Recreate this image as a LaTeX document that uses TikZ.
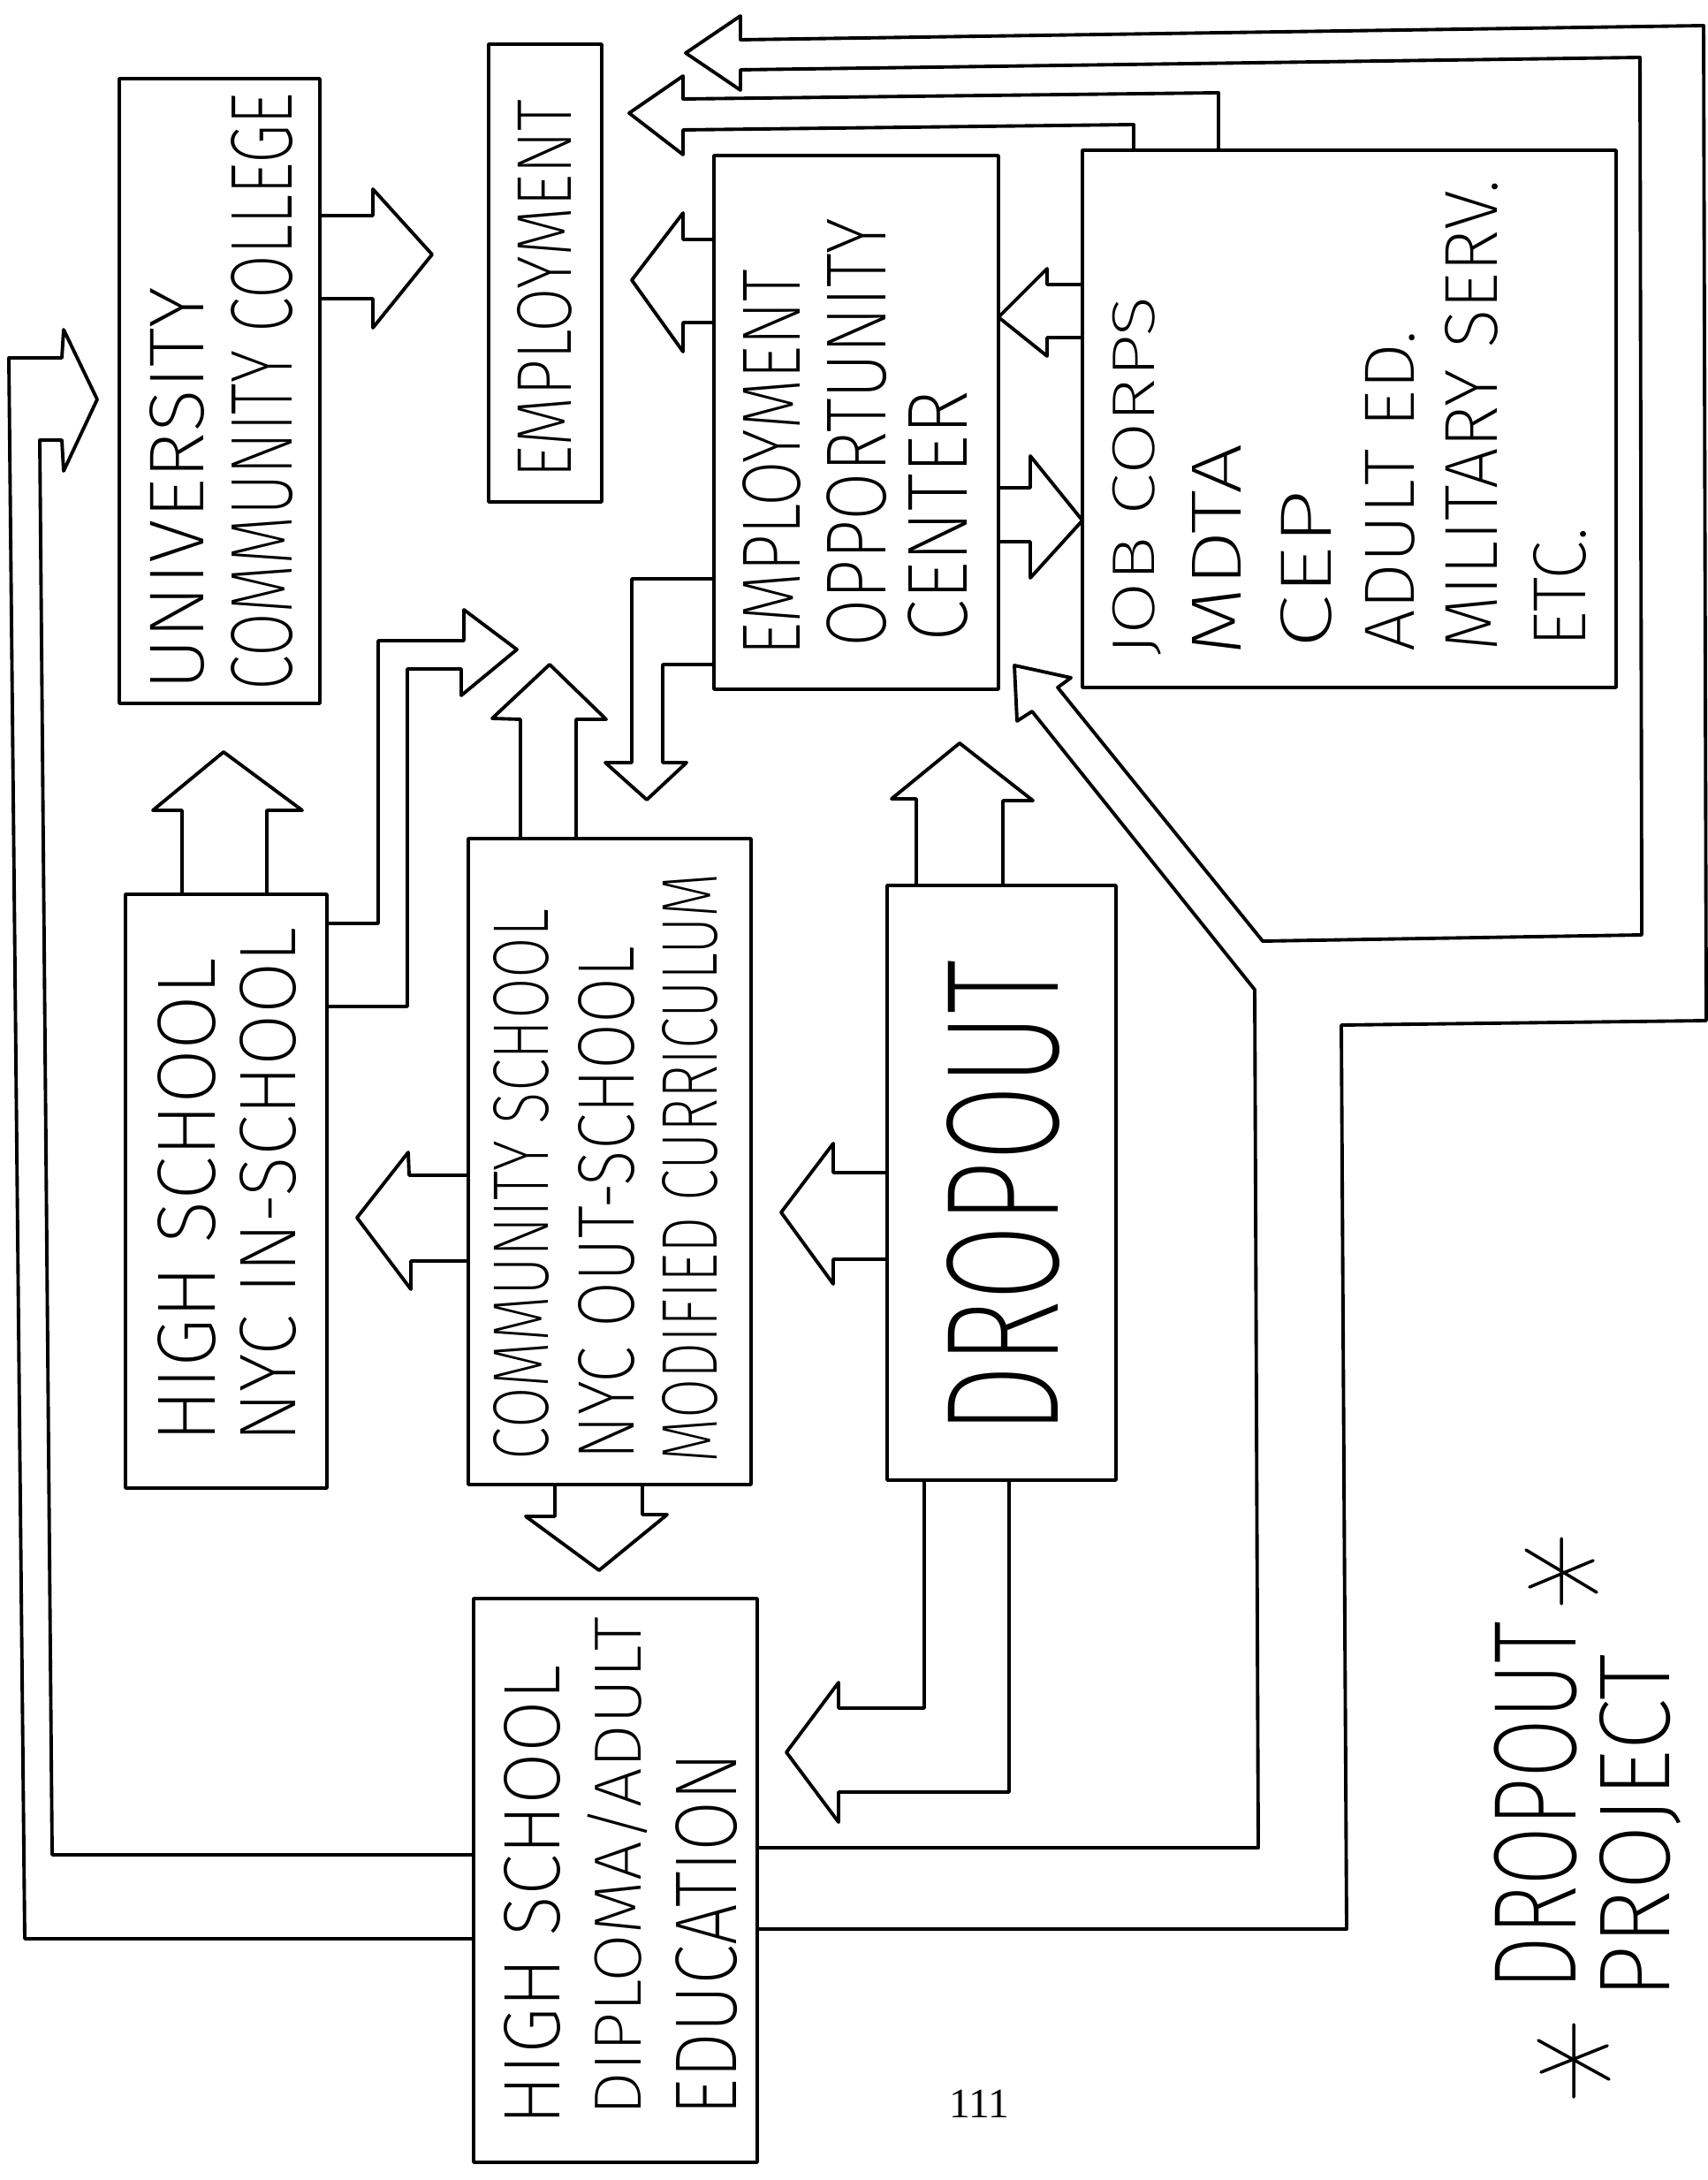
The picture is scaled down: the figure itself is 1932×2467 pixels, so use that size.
\documentclass[tikz,border=0pt]{standalone}
\usepackage{fontspec}
\usepackage{graphicx}
\IfFontExistsTF{Fira Sans ExtraLight}{\newfontfamily\handfont{Fira Sans ExtraLight}}{%
  \IfFontExistsTF{Fira Sans Light}{\newfontfamily\handfont{Fira Sans Light}}{\newfontfamily\handfont{Liberation Sans}}}
\newfontfamily\numfont{Liberation Serif}
\usetikzlibrary{fit}
\newlength\pxu
\setlength\pxu{0.1mm}
\newcommand\hw[3]{\resizebox*{#1\pxu}{#2\pxu}{\handfont #3}}
\begin{document}
\begin{tikzpicture}[x=0.1mm,y=-0.1mm, line width=1.1pt, line join=round, line cap=round,
  box/.style={draw, inner sep=0pt, line width=1pt},
  hand/.style={rotate=90, anchor=west, inner sep=0pt, outer sep=0pt}]
\useasboundingbox (0,0) rectangle (1932,2467);
\fill[white] (0,0) rectangle (1932,2467);

% boxes
\node[box, fit={(135,89) (362,796)}] (univ) {};
\node[box, fit={(553,50) (681,568)}] (empl) {};
\node[box, fit={(808,176) (1130,780)}] (eoc) {};
\node[box, fit={(1225,170) (1829,778)}] (jc) {};
\node[box, fit={(142,1012) (370,1684)}] (hs) {};
\node[box, fit={(530,949) (850,1680)}] (cs) {};
\node[box, fit={(1004,1002) (1263,1675)}] (drop) {};
\node[box, fit={(536,1809) (857,2447)}] (hsd) {};

% texts
\node[hand] (tu1) at (200,782) {\hw{457}{62}{UNIVERSITY}};
\node[hand] (tu2) at (297,782) {\hw{677}{70}{COMMUNITY COLLEGE}};
\node[hand] (te1) at (616,542) {\hw{429}{62}{EMPLOYMENT}};
\node[hand] (to1) at (874,743) {\hw{438}{66}{EMPLOYMENT}};
\node[hand] (to2) at (970,733) {\hw{486}{68}{OPPORTUNITY}};
\node[hand] (to3) at (1062,727) {\hw{285}{68}{CENTER}};
\node[hand] (tj1) at (1287,743) {\hw{408}{55}{JOB CORPS}};
\node[hand] (tj2) at (1377,743) {\hw{240}{55}{MDTA}};
\node[hand] (tj3) at (1478,735) {\hw{180}{58}{CEP}};
\node[hand] (tj4) at (1573,738) {\hw{364}{56}{ADULT ED.}};
\node[hand] (tj5) at (1665,738) {\hw{534}{60}{MILITARY SERV.}};
\node[hand] (tj6) at (1765,733) {\hw{136}{60}{ETC.}};
\node[hand] (th1) at (212,1632) {\hw{548}{66}{HIGH SCHOOL}};
\node[hand] (th2) at (303,1632) {\hw{582}{64}{NYC IN-SCHOOL}};
\node[hand] (tc1) at (590,1652) {\hw{623}{63}{COMMUNITY SCHOOL}};
\node[hand] (tc2) at (686,1652) {\hw{581}{64}{NYC OUT-SCHOOL}};
\node[hand] (tc3) at (781,1655) {\hw{667}{63}{MODIFIED CURRICULUM}};
\node[hand] (td1) at (1135,1623) {\hw{536}{128}{DROPOUT}};
\node[hand] (tk1) at (602,2405) {\hw{520}{64}{HIGH SCHOOL}};
\node[hand] (tk2) at (699,2394) {\hw{564}{68}{DIPLOMA/ADULT}};
\node[hand] (tk3) at (800,2394) {\hw{411}{70}{EDUCATION}};
\node[hand] (tp1) at (1738,2252) {\hw{417}{94}{DROPOUT}};
\node[hand] (tp2) at (1856,2262) {\hw{390}{92}{PROJECT}};
\node[font=\numfont\fontsize{13.5}{16}\selectfont, inner sep=0pt] (pg) at (1108,2381) {111};

% asterisks
\coordinate (ast1) at (1767,1778);
\coordinate (ast2) at (1781,2331);
\draw[line width=1pt, shift={(ast1)}] (0,-37) -- (0,37) (-40,-24) -- (40,24) (-36,18) -- (36,-12);
\draw[line width=1pt, shift={(ast2)}] (0,-40) -- (0,42) (-40,-22) -- (40,22) (-37,14) -- (38,-16);

% University -> Employment
\draw (univ.east |- 0,244) -- (422,244) -- (422,214) -- (489,288) -- (422,371) -- (422,338) -- (univ.east |- 0,338);
% EOC -> Employment
\draw (eoc.west |- 0,271) -- (773,271) -- (773,241) -- (715,317) -- (773,398) -- (773,365) -- (eoc.west |- 0,365);
% Job Corps -> Employment
\draw (jc.north -| 1283,0) -- (1283,141) -- (773,147) -- (773,175) -- (712,128) -- (773,86) -- (773,112) -- (1379,105) -- (jc.north -| 1379,0);
% Job Corps -> EOC
\draw (jc.west |- 0,322) -- (1185,322) -- (1185,304) -- (1130,359) -- (1185,403) -- (1185,382) -- (jc.west |- 0,382);
% EOC -> Job Corps
\draw (eoc.east |- 0,552) -- (1166,552) -- (1166,516) -- (1225,589) -- (1166,654) -- (1166,613) -- (eoc.east |- 0,613);
% High school -> University
\draw (hs.north -| 206,0) -- (206,917) -- (173,917) -- (253,851) -- (342,917) -- (302,917) -- (hs.north -| 302,0);
% High school -> right
\draw (hs.east |- 0,1045) -- (428,1045) -- (428,725) -- (525,725) -- (525,690) -- (585,735) -- (522,787) -- (522,757) -- (461,757) -- (461,1139) -- (hs.east |- 0,1139);
% Community school up
\draw (cs.north -| 589,0) -- (589,814) -- (557,813) -- (622,752) -- (686,814) -- (652,814) -- (cs.north -| 652,0);
% EOC -> Community school
\draw (eoc.west |- 0,655) -- (715,655) -- (715,863) -- (685,863) -- (732,905) -- (777,863) -- (750,863) -- (750,752) -- (eoc.west |- 0,752);
% Community school -> High school
\draw (cs.west |- 0,1330) -- (463,1330) -- (462,1304) -- (404,1378) -- (465,1459) -- (465,1427) -- (cs.west |- 0,1427);
% Community school -> HS diploma
\draw (cs.south -| 628,0) -- (628,1716) -- (595,1716) -- (678,1777) -- (755,1714) -- (727,1714) -- (cs.south -| 727,0);
% Dropout -> EOC
\draw (drop.north -| 1037,0) -- (1037,904) -- (1009,904) -- (1086,841) -- (1169,906) -- (1135,906) -- (drop.north -| 1135,0);
% Dropout -> Community school
\draw (drop.west |- 0,1327) -- (943,1327) -- (943,1294) -- (884,1372) -- (943,1453) -- (943,1425) -- (drop.west |- 0,1425);
% Dropout -> HS diploma
\draw (drop.south -| 1046,0) -- (1046,1933) -- (949,1933) -- (949,1904) -- (890,1983) -- (949,2062) -- (949,2028) -- (1142,2028) -- (drop.south -| 1142,0);
% HS diploma -> University (left loop)
\draw (hsd.west |- 0,2099) -- (59,2099) -- (45,498) -- (70,498) -- (72,533) -- (110,452) -- (72,373) -- (70,405) -- (10,405) -- (28,2194) -- (hsd.west |- 0,2194);
% HS diploma -> Employment and EOC (right loop)
\draw (hsd.east |- 0,2183) -- (1524,2183) -- (1518,1160) -- (1931,1155) -- (1928,29) -- (838,45) -- (838,18) -- (776,60) -- (838,102) -- (838,79) -- (1856,65) -- (1858,1058) -- (1429,1065) -- (1197,778) -- (1212,767) -- (1148,753) -- (1151,816) -- (1168,805) -- (1420,1120) -- (1424,2091) -- (hsd.east |- 0,2091);
\end{tikzpicture}
\end{document}
